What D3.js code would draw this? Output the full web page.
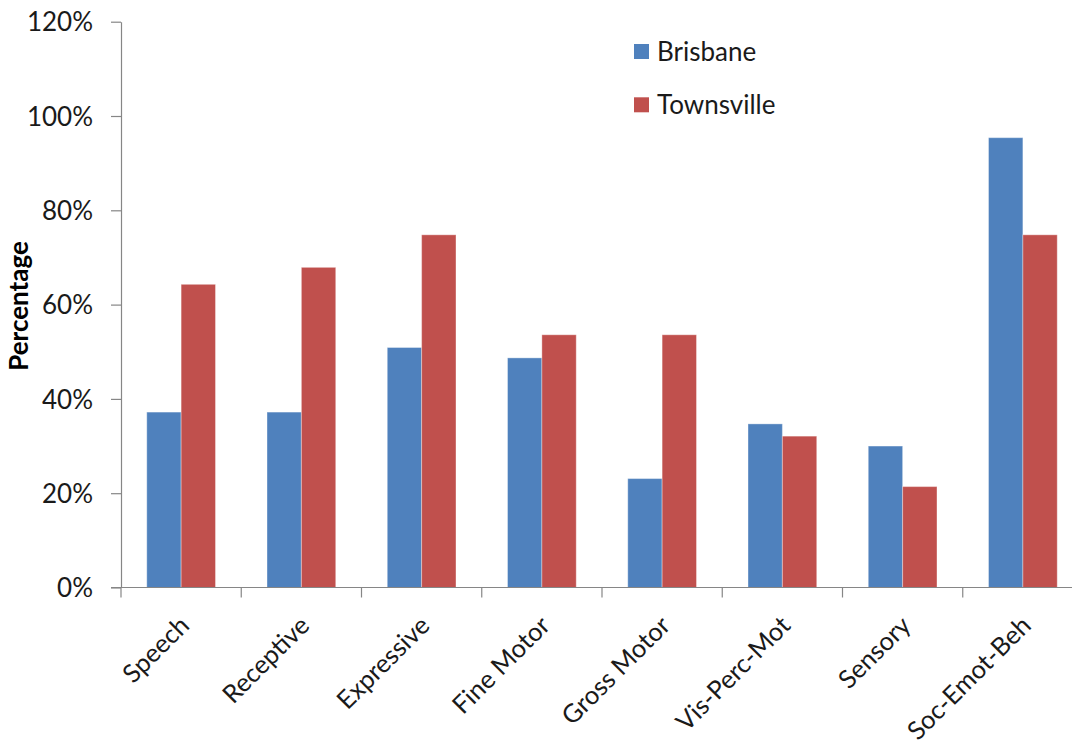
<!DOCTYPE html>
<html>
<head>
<meta charset="utf-8">
<script src="https://cdn.jsdelivr.net/npm/d3@7"></script>
<style>
  html, body { margin: 0; padding: 0; background: #fff; }
  svg { display: block; font-family: Lato, "Open Sans", sans-serif; }
</style>
</head>
<body>
<svg id="chart" width="1072" height="745"></svg>
<script>
// Domains assessed, and share of children flagged in each city
const categories = ["Speech", "Receptive", "Expressive", "Fine Motor", "Gross Motor", "Vis-Perc-Mot", "Sensory", "Soc-Emot-Beh"];
const seriesNames = ["Brisbane", "Townsville"];
const brisbane = [37.2, 37.2, 50.9, 48.7, 23.1, 34.7, 30.0, 95.4];
const townsville = [64.3, 67.9, 74.8, 53.6, 53.6, 32.1, 21.4, 74.8];
const yTicks = [0, 20, 40, 60, 80, 100, 120];
const colors = ["#4F81BD", "#C0504D"];

const svg = d3.select("#chart");
const m = { left: 121, right: 1083, top: 21.7, bottom: 587.5 };
const axisColor = "#868686";

const x = d3.scaleBand().domain(categories).range([m.left, m.right]).padding(0);
const y = d3.scaleLinear().domain([0, 120]).range([m.bottom, m.top]);

// Two bars per category with Excel-like 150% gap width
const gapRatio = 1.5;
const barW = x.bandwidth() / (2 + gapRatio);
const xs = d3.scaleBand().domain(seriesNames)
  .range([barW * gapRatio / 2, barW * gapRatio / 2 + 2 * barW]).padding(0);

const values = [brisbane, townsville];
const rows = [];
categories.forEach((c, i) => {
  seriesNames.forEach((s, j) => rows.push({ c, s, v: values[j][i], color: colors[j] }));
});

svg.append("g").selectAll("rect").data(rows).join("rect")
  .attr("x", d => x(d.c) + xs(d.s))
  .attr("y", d => y(d.v))
  .attr("width", xs.bandwidth())
  .attr("height", d => y(0) - y(d.v))
  .attr("fill", d => d.color)
  .attr("stroke", "#ffffff")
  .attr("stroke-opacity", 0.35)
  .attr("stroke-width", 1);

// Y axis
const yAxis = svg.append("g")
  .attr("transform", `translate(${m.left},0)`)
  .call(d3.axisLeft(y).tickValues(yTicks).tickSize(10).tickSizeOuter(0).tickFormat(d => d + "%"));
yAxis.select(".domain").attr("stroke", axisColor).attr("stroke-width", 1.2);
yAxis.selectAll(".tick line").attr("stroke", axisColor).attr("stroke-width", 1.2);
yAxis.selectAll(".tick text")
  .attr("x", -28)
  .attr("dy", "0.35em")
  .attr("fill", "#1a1a1a")
  .style("font-size", "26px")
  .style("font-family", "Lato, sans-serif");

// X axis: ticks at category boundaries
const boundaries = categories.map(c => x(c)).concat([m.right]);
const xAxisG = svg.append("g");
xAxisG.append("line")
  .attr("x1", m.left - 10).attr("x2", m.right)
  .attr("y1", y(0)).attr("y2", y(0))
  .attr("stroke", axisColor).attr("stroke-width", 1.2);
xAxisG.selectAll("line.tk").data(boundaries).join("line")
  .attr("class", "tk")
  .attr("x1", d => d).attr("x2", d => d)
  .attr("y1", y(0)).attr("y2", y(0) + 10)
  .attr("stroke", axisColor).attr("stroke-width", 1.2);

xAxisG.selectAll("text").data(categories).join("text")
  .attr("transform", d => `translate(${x(d) + x.bandwidth() / 2 - 3},${y(0) + 27}) rotate(-45)`)
  .attr("text-anchor", "end")
  .attr("dy", "0.7em")
  .attr("fill", "#1a1a1a")
  .style("font-size", "25.5px")
  .text(d => d);

// Y axis title
svg.append("text")
  .attr("transform", `translate(28,306) rotate(-90)`)
  .attr("text-anchor", "middle")
  .attr("fill", "#000")
  .style("font-size", "26px")
  .style("font-weight", "bold")
  .text("Percentage");

// Legend
const legend = svg.append("g");
seriesNames.forEach((s, i) => {
  const gy = 44 + i * 53.3;
  legend.append("rect")
    .attr("x", 634).attr("y", gy)
    .attr("width", 15).attr("height", 15)
    .attr("fill", colors[i]);
  legend.append("text")
    .attr("x", 657).attr("y", gy + 7.5)
    .attr("dy", "0.36em")
    .attr("fill", "#1a1a1a")
    .style("font-size", "26px")
    .text(s);
});
</script>
</body>
</html>
